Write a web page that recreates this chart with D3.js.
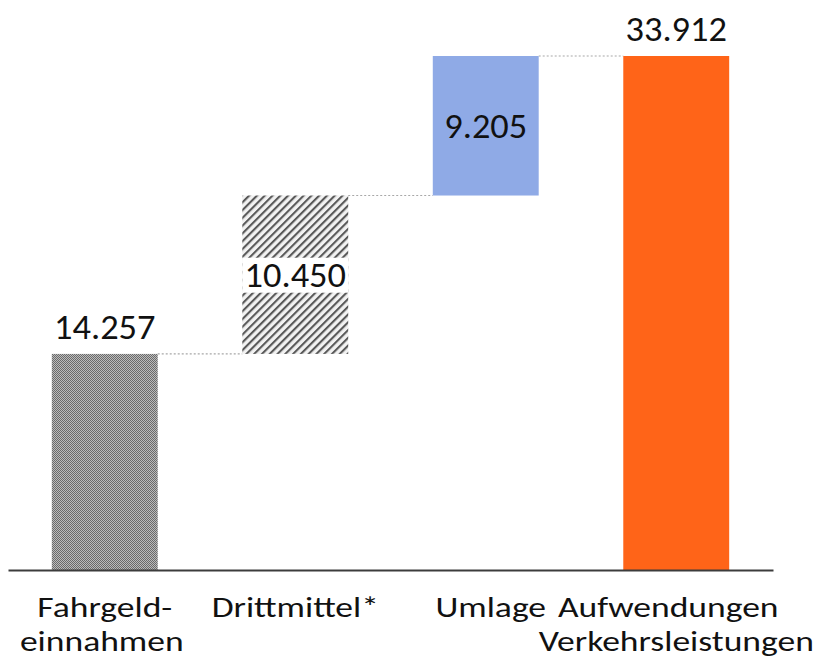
<!DOCTYPE html>
<html>
<head>
<meta charset="utf-8">
<script src="https://cdn.jsdelivr.net/npm/d3@7"></script>
<style>
  html, body { margin: 0; padding: 0; background: #fff; }
  svg { display: block; }
</style>
</head>
<body>
<svg id="chart" width="822" height="659"></svg>
<script>
// ---- data ----
const categories = [["Fahrgeld-", "einnahmen"], ["Drittmittel*"], ["Umlage"], ["Aufwendungen", "Verkehrsleistungen"]];
const values = [14.257, 10.450, 9.205, 33.912];
const kinds = ["delta", "delta", "delta", "total"];
const valueLabels = ["14.257", "10.450", "9.205", "33.912"];

// ---- computation of waterfall spans ----
let run = 0;
const bars = values.map((v, i) => {
  let start, end;
  if (kinds[i] === "total") { start = 0; end = v; }
  else { start = run; end = run + v; }
  run = end;
  return { i, key: categories[i].join(" "), start, end, label: valueLabels[i] };
});

const svg = d3.select("#chart");
const font = "Carlito, Calibri, Lato, sans-serif";

const x = d3.scaleBand()
  .domain(bars.map(d => d.key))
  .range([8, 773])
  .paddingInner(0.444)
  .paddingOuter(0.23);

const y = d3.scaleLinear()
  .domain([0, d3.max(bars, d => d.end)])
  .range([570, 56]);

// ---- patterns ----
const defs = svg.append("defs");
const dots = defs.append("pattern").attr("id", "dots")
  .attr("patternUnits", "userSpaceOnUse").attr("width", 2).attr("height", 2);
dots.append("rect").attr("width", 2).attr("height", 2).attr("fill", "#bcbcbc");
dots.append("rect").attr("width", 1).attr("height", 1).attr("fill", "#6a6a6a");
dots.append("rect").attr("x", 1).attr("y", 1).attr("width", 1).attr("height", 1).attr("fill", "#6a6a6a");

const hatch = defs.append("pattern").attr("id", "hatch")
  .attr("patternUnits", "userSpaceOnUse").attr("width", 5.5).attr("height", 5.5)
  .attr("patternTransform", "rotate(45)");
hatch.append("rect").attr("width", 5.5).attr("height", 5.5).attr("fill", "#f2f2f2");
hatch.append("rect").attr("x", 0).attr("width", 2.1).attr("height", 5.5).attr("fill", "#585858");

const fills = ["url(#dots)", "url(#hatch)", "#8faae6", "#ff6418"];

// ---- connectors ----
const conn = svg.append("g");
bars.slice(0, -1).forEach((d, i) => {
  const nx = bars[i + 1];
  conn.append("line")
    .attr("x1", x(d.key) + x.bandwidth())
    .attr("x2", x(nx.key))
    .attr("y1", y(d.end)).attr("y2", y(d.end))
    .attr("stroke", "#a8a8a8").attr("stroke-width", 1.2)
    .attr("stroke-dasharray", "2,2");
});

// ---- bars ----
svg.append("g").selectAll("rect")
  .data(bars).join("rect")
  .attr("x", d => x(d.key))
  .attr("width", x.bandwidth())
  .attr("y", d => y(d.end))
  .attr("height", d => y(d.start) - y(d.end))
  .attr("fill", (d, i) => fills[i]);

// ---- axis ----
const axis = svg.append("g").attr("transform", `translate(0,${y(0)})`)
  .call(d3.axisBottom(x).tickSize(0).tickFormat(""));
axis.select(".domain").attr("stroke", "#3c3c3c").attr("stroke-width", 2);

// ---- value labels ----
const lbl = svg.append("g");
function addLabel(g, cx, yy, txt, size, sx) {
  g.append("text")
    .attr("transform", `translate(${cx},${yy}) scale(${sx},1)`)
    .attr("text-anchor", "middle").attr("font-family", font)
    .attr("font-size", size).attr("fill", "#111").text(txt);
}
bars.forEach((d, i) => {
  const cx = x(d.key) + x.bandwidth() / 2;
  if (i === 0 || i === 3) {
    addLabel(lbl, cx, y(d.end) - 15, d.label, 35, 1.04);
  } else {
    const cy = (y(d.start) + y(d.end)) / 2;
    if (i === 1) {
      lbl.append("rect").attr("x", x(d.key)).attr("width", x.bandwidth())
        .attr("y", cy - 17).attr("height", 35).attr("fill", "#fff");
    }
    addLabel(lbl, cx, cy + 12, d.label, 35, 1.04);
  }
});

// ---- category labels ----
const dxs = [[0, -3], [0], [5], [-8, 0]];
const cat = svg.append("g");
bars.forEach((d, i) => {
  const cx = x(d.key) + x.bandwidth() / 2;
  categories[i].forEach((line, j) => {
    addLabel(cat, cx + dxs[i][j], 617 + j * 34, line, 28, 1.27);
  });
});
</script>
</body>
</html>
